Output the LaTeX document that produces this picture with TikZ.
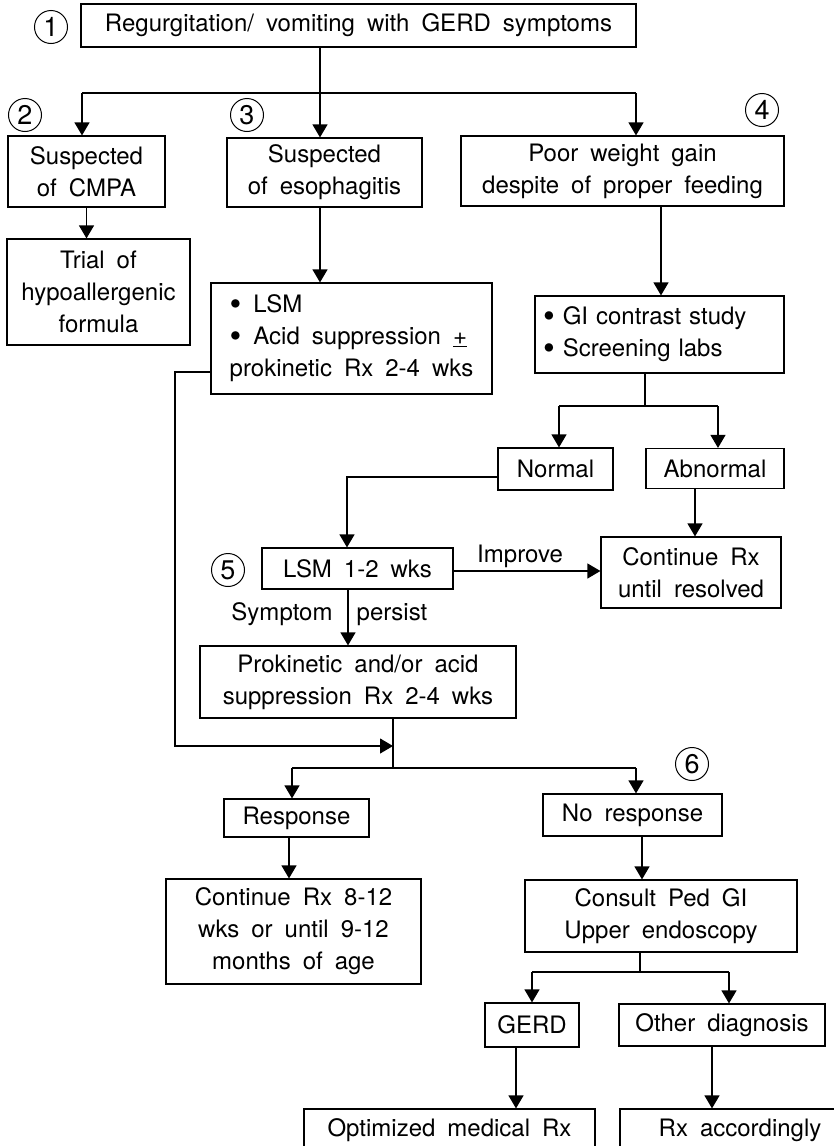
\documentclass[tikz,border=0pt]{standalone}
\usepackage{fontspec}
\setmainfont{TeX Gyre Heros}[WordSpace=1.8]
\usetikzlibrary{arrows.meta,calc}
\newcommand{\bigbul}{\raisebox{-0.12em}{\scalebox{1.4}{\textbullet}}}
\begin{document}
\begin{tikzpicture}[x=1pt,y=-1pt,
  box/.style={draw,line width=1.2pt,inner sep=0pt,align=center,font=\fontsize{24}{32}\selectfont},
  arr/.style={line width=1.2pt,-{Triangle[width=15pt,length=13pt]}},
  ln/.style={line width=1.2pt},
  num/.style={draw,circle,line width=1pt,minimum size=33pt,inner sep=0pt,font=\fontsize{27}{27}\selectfont},
  lbl/.style={font=\fontsize{24}{28}\selectfont,inner sep=0pt}]
\useasboundingbox (0,0) rectangle (834,1146);
\clip (0,0) rectangle (834,1146);
\fill[white] (0,0) rectangle (834,1146);

% boxes
\node[box,minimum width=555pt,minimum height=43pt] (b1) at (358.5,25.5) {Regurgitation/ vomiting with GERD symptoms};
\node[box,minimum width=157pt,minimum height=71pt] (b2) at (86.5,171.5) {Suspected\\of CMPA};
\node[box,minimum width=195pt,minimum height=69pt] (b3) at (324.5,172.5) {Suspected\\of esophagitis};
\node[box,minimum width=323pt,minimum height=70pt] (b4) at (622.5,171) {Poor weight gain\\despite of proper feeding};
\node[box,minimum width=183pt,minimum height=106pt] (b5) at (98.5,292) {Trial of\\hypoallergenic\\formula};
\node[box,align=left,minimum width=281pt,minimum height=111pt] (b6) at (351.5,338.5) {\bigbul{} LSM\\\bigbul{} Acid suppression \underline{+}\\prokinetic Rx 2-4 wks};
\node[box,align=left,text width=233pt,minimum width=249pt,minimum height=77pt] (b7) at (659.5,334.5) {\bigbul{} GI contrast study\\\bigbul{} Screening labs};
\node[box,minimum width=115pt,minimum height=42pt] (b8) at (555.5,469) {Normal};
\node[box,minimum width=138pt,minimum height=40pt] (b9) at (715,468.5) {Abnormal};
\node[box,minimum width=180pt,minimum height=71pt] (b10) at (691,572.5) {Continue Rx\\until resolved};
\node[box,minimum width=191pt,minimum height=41pt] (b11) at (357.5,568.5) {LSM 1-2 wks};
\node[box,minimum width=316pt,minimum height=72pt] (b12) at (358,682) {Prokinetic and/or acid\\suppression Rx 2-4 wks};
\node[box,minimum width=145pt,minimum height=38pt] (b13) at (296.5,818) {Response};
\node[box,minimum width=179pt,minimum height=42pt] (b14) at (632.5,815) {No response};
\node[box,minimum width=255pt,minimum height=105pt] (b15) at (293.5,931.5) {Continue Rx 8-12\\wks or until 9-12\\months of age};
\node[box,minimum width=272pt,minimum height=72pt] (b16) at (661,916) {Consult Ped GI\\Upper endoscopy};
\node[box,minimum width=94pt,minimum height=44pt] (b17) at (532,1025) {GERD};
\node[box,minimum width=206pt,minimum height=42pt] (b18) at (722,1025) {Other diagnosis};
\node[box,minimum width=291pt,minimum height=43pt] (b19) at (449.5,1130.5) {Optimized medical Rx};
\node[box,minimum width=240pt,minimum height=43pt] (b20) at (740,1130.5) {Rx accordingly};

% circled numbers
\node[num] (c1) at (51,27) {1};
\node[num] (c2) at (25,115) {2};
\node[num] (c3) at (247,115) {3};
\node[num] (c4) at (762,110) {4};
\node[num] (c5) at (228,570) {5};
\node[num] (c6) at (692,764) {6};

% connectors
\coordinate (j1) at (320,93);
\coordinate (j1l) at (82,93);
\coordinate (j1r) at (636,93);
\draw[ln] (b1.south -| j1) -- (j1);
\draw[ln] (j1l) -- (j1r);
\draw[arr] (j1l) -- (j1l |- b2.north);
\draw[arr] (j1) -- (j1 |- b3.north);
\draw[arr] (j1r) -- (j1r |- b4.north);

\draw[arr] (b2.south) -- (b2.south |- b5.north);
\draw[arr] (j1 |- b3.south) -- (j1 |- b6.north);
\coordinate (x4) at (661,0);
\draw[arr] (x4 |- b4.south) -- (x4 |- b7.north);

\coordinate (j2) at (645,406);
\coordinate (j2l) at (559,406);
\coordinate (j2r) at (718,406);
\draw[ln] (j2 |- b7.south) -- (j2);
\draw[ln] (j2l) -- (j2r);
\draw[arr] (j2l) -- (j2l |- b8.north);
\draw[arr] (j2r) -- (j2r |- b9.north);

\coordinate (j3) at (347,477);
\draw[arr] (j3 -| b8.west) -- (j3) -- (j3 |- b11.north);
\coordinate (x9) at (695,0);
\draw[arr] (x9 |- b9.south) -- (x9 |- b10.north);

\coordinate (y11) at (0,571);
\draw[arr] (y11 -| b11.east) -- (y11 -| b10.west);
\node[lbl,anchor=base] (imp) at (520,562) {Improve};

\coordinate (x11) at (348,0);
\draw[arr] (x11 |- b11.south) -- (x11 |- b12.north);
\node[lbl,anchor=base] (sym) at (282,620) {Symptom};
\node[lbl,anchor=base] (per) at (392,620) {persist};

\coordinate (y6) at (0,372);
\coordinate (k1) at (175,372);
\coordinate (k2) at (175,746);
\coordinate (j4) at (393,746);
\draw[arr] (y6 -| b6.west) -- (k1) -- (k2) -- (j4);

\coordinate (j5) at (393,768);
\coordinate (j5l) at (292,768);
\coordinate (j5r) at (636,768);
\draw[ln] (j5 |- b12.south) -- (j5);
\draw[ln] (j5l) -- (j5r);
\draw[arr] (j5l) -- (j5l |- b13.north);
\draw[arr] (j5r) -- (j5r |- b14.north);

\coordinate (x13) at (289,0);
\draw[arr] (x13 |- b13.south) -- (x13 |- b15.north);
\coordinate (x14) at (642,0);
\draw[arr] (x14 |- b14.south) -- (x14 |- b16.north);

\coordinate (j6) at (640,972);
\coordinate (j6l) at (532,972);
\coordinate (j6r) at (729,972);
\draw[ln] (j6 |- b16.south) -- (j6);
\draw[ln] (j6l) -- (j6r);
\draw[arr] (j6l) -- (j6l |- b17.north);
\draw[arr] (j6r) -- (j6r |- b18.north);

\coordinate (x17) at (516,0);
\draw[arr] (x17 |- b17.south) -- (x17 |- b19.north);
\coordinate (x18) at (712,0);
\draw[arr] (x18 |- b18.south) -- (x18 |- b20.north);
\end{tikzpicture}
\end{document}
